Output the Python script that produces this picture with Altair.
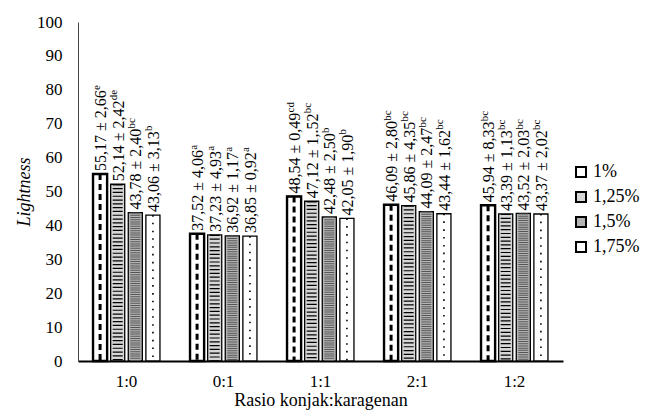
import altair as alt
import pandas as pd

rasio = ["1:0", "0:1", "1:1", "2:1", "1:2"]
konsentrasi = ["1%", "1,25%", "1,5%", "1,75%"]

mean_1 = [55.17, 37.52, 48.54, 46.09, 45.94]
mean_125 = [52.14, 37.23, 47.12, 45.86, 43.39]
mean_15 = [43.78, 36.92, 42.48, 44.09, 43.52]
mean_175 = [43.06, 36.85, 42.05, 43.44, 43.37]

sd_1 = ["2,66", "4,06", "0,49", "2,80", "8,33"]
sd_125 = ["2,42", "4,93", "1,.52", "4,35", "1,13"]
sd_15 = ["2,40", "1,17", "2,50", "2,47", "2,03"]
sd_175 = ["3,13", "0,92", "1,90", "1,62", "2,02"]

notasi_1 = ["e", "a", "cd", "bc", "bc"]
notasi_125 = ["de", "a", "bc", "bc", "bc"]
notasi_15 = ["bc", "a", "b", "bc", "bc"]
notasi_175 = ["b", "a", "b", "bc", "bc"]

y_ticks = [0, 10, 20, 30, 40, 50, 60, 70, 80, 90, 100]

rows = []
for k, means, sds, nots in [
    (konsentrasi[0], mean_1, sd_1, notasi_1),
    (konsentrasi[1], mean_125, sd_125, notasi_125),
    (konsentrasi[2], mean_15, sd_15, notasi_15),
    (konsentrasi[3], mean_175, sd_175, notasi_175),
]:
    for r, m, s, n in zip(rasio, means, sds, nots):
        lab = f"{m:.2f}".replace(".", ",") + " \u00b1 " + s
        rows.append({"rasio": r, "konsentrasi": k, "mean": m, "label": lab,
                     "notasi": n, "long": len(s) > 4})
df = pd.DataFrame(rows)

FONT = "Liberation Serif"

base = alt.Chart(df).encode(
    x=alt.X(
        "rasio:N",
        sort=rasio,
        scale=alt.Scale(paddingInner=0.31, paddingOuter=0.155),
        axis=alt.Axis(
            title="Rasio konjak:karagenan",
            labelAngle=0,
            ticks=False,
            domainColor="black",
            domainWidth=2,
            labelFont=FONT,
            labelFontSize=17,
            labelColor="black",
            labelPadding=12,
            titleFont=FONT,
            titleFontSize=18,
            titleFontWeight="normal",
            titleColor="black",
            titlePadding=2,
        ),
    ),
    xOffset=alt.XOffset(
        "konsentrasi:N",
        sort=konsentrasi,
        scale=alt.Scale(paddingInner=0.2, paddingOuter=0),
    ),
    y=alt.Y(
        "mean:Q",
        scale=alt.Scale(domain=[0, 100], nice=False),
        axis=alt.Axis(
            values=y_ticks,
            grid=False,
            ticks=False,
            domainColor="#444444",
            domainWidth=1,
            labelFont=FONT,
            labelFontSize=17,
            labelColor="black",
            labelPadding=16,
            title="Lightness",
            titleFont=FONT,
            titleFontSize=18,
            titleFontStyle="italic",
            titleFontWeight="normal",
            titleColor="black",
            titlePadding=3,
        ),
    ),
)

bars = base.mark_bar(stroke="black", strokeWidth=1.3).encode(
    fill=alt.Color(
        "konsentrasi:N",
        sort=konsentrasi,
        scale=alt.Scale(domain=konsentrasi, range=["#ffffff", "#d6d6d6", "#b4b4b4", "#ffffff"]),
        legend=alt.Legend(
            title=None,
            orient="none",
            legendX=494,
            legendY=141,
            symbolType="square",
            symbolSize=100,
            symbolStrokeColor="black",
            symbolStrokeWidth=2,
            labelFont=FONT,
            labelFontSize=18,
            labelColor="black",
            labelOffset=3,
            rowPadding=7,
        ),
    )
)

thick = base.mark_bar(fill=None, stroke="black", strokeWidth=2.4).transform_filter(
    alt.datum.konsentrasi == konsentrasi[0]
)

dash1 = base.mark_rule(color="black", strokeWidth=3, strokeDash=[6, 4]).encode(
    y2=alt.datum(0)
).transform_filter(alt.datum.konsentrasi == konsentrasi[0])

chev = base.mark_rule(color="black", strokeWidth=10, strokeDash=[1.2, 2.6]).encode(
    y2=alt.datum(0)
).transform_filter(alt.datum.konsentrasi == konsentrasi[1])

dots = base.mark_rule(color="#555555", strokeWidth=10, strokeDash=[1, 1.2]).encode(
    y2=alt.datum(0)
).transform_filter(alt.datum.konsentrasi == konsentrasi[2])

sp1 = base.mark_rule(color="black", strokeWidth=1.6, strokeDash=[1.6, 14], xOffset=-3).encode(
    y2=alt.datum(0)
).transform_filter(alt.datum.konsentrasi == konsentrasi[3])

sp2 = base.mark_rule(color="black", strokeWidth=1.6, strokeDash=[1.6, 14], strokeDashOffset=8, xOffset=3).encode(
    y2=alt.datum(0)
).transform_filter(alt.datum.konsentrasi == konsentrasi[3])

labels = base.mark_text(
    angle=270, align="left", baseline="middle", dx=3, dy=1,
    font=FONT, fontSize=16, color="black",
).encode(text="label:N")

sup_short = base.mark_text(
    angle=270, align="left", baseline="middle", dx=84, dy=-3.5,
    font=FONT, fontSize=11, color="black",
).encode(text="notasi:N").transform_filter("!datum.long")

sup_long = base.mark_text(
    angle=270, align="left", baseline="middle", dx=88, dy=-3.5,
    font=FONT, fontSize=11, color="black",
).encode(text="notasi:N").transform_filter("datum.long")

chart = (
    alt.layer(bars, dash1, chev, dots, sp1, sp2, thick, labels, sup_short, sup_long)
    .properties(
        width=485,
        height=339,
        autosize=alt.AutoSizeParams(type="none"),
        padding={"left": 78, "top": 22, "right": 84, "bottom": 52},
        background="white",
    )
    .configure_view(stroke=None)
)

chart.save("out.html", embed_options={"renderer": "svg", "actions": False})
